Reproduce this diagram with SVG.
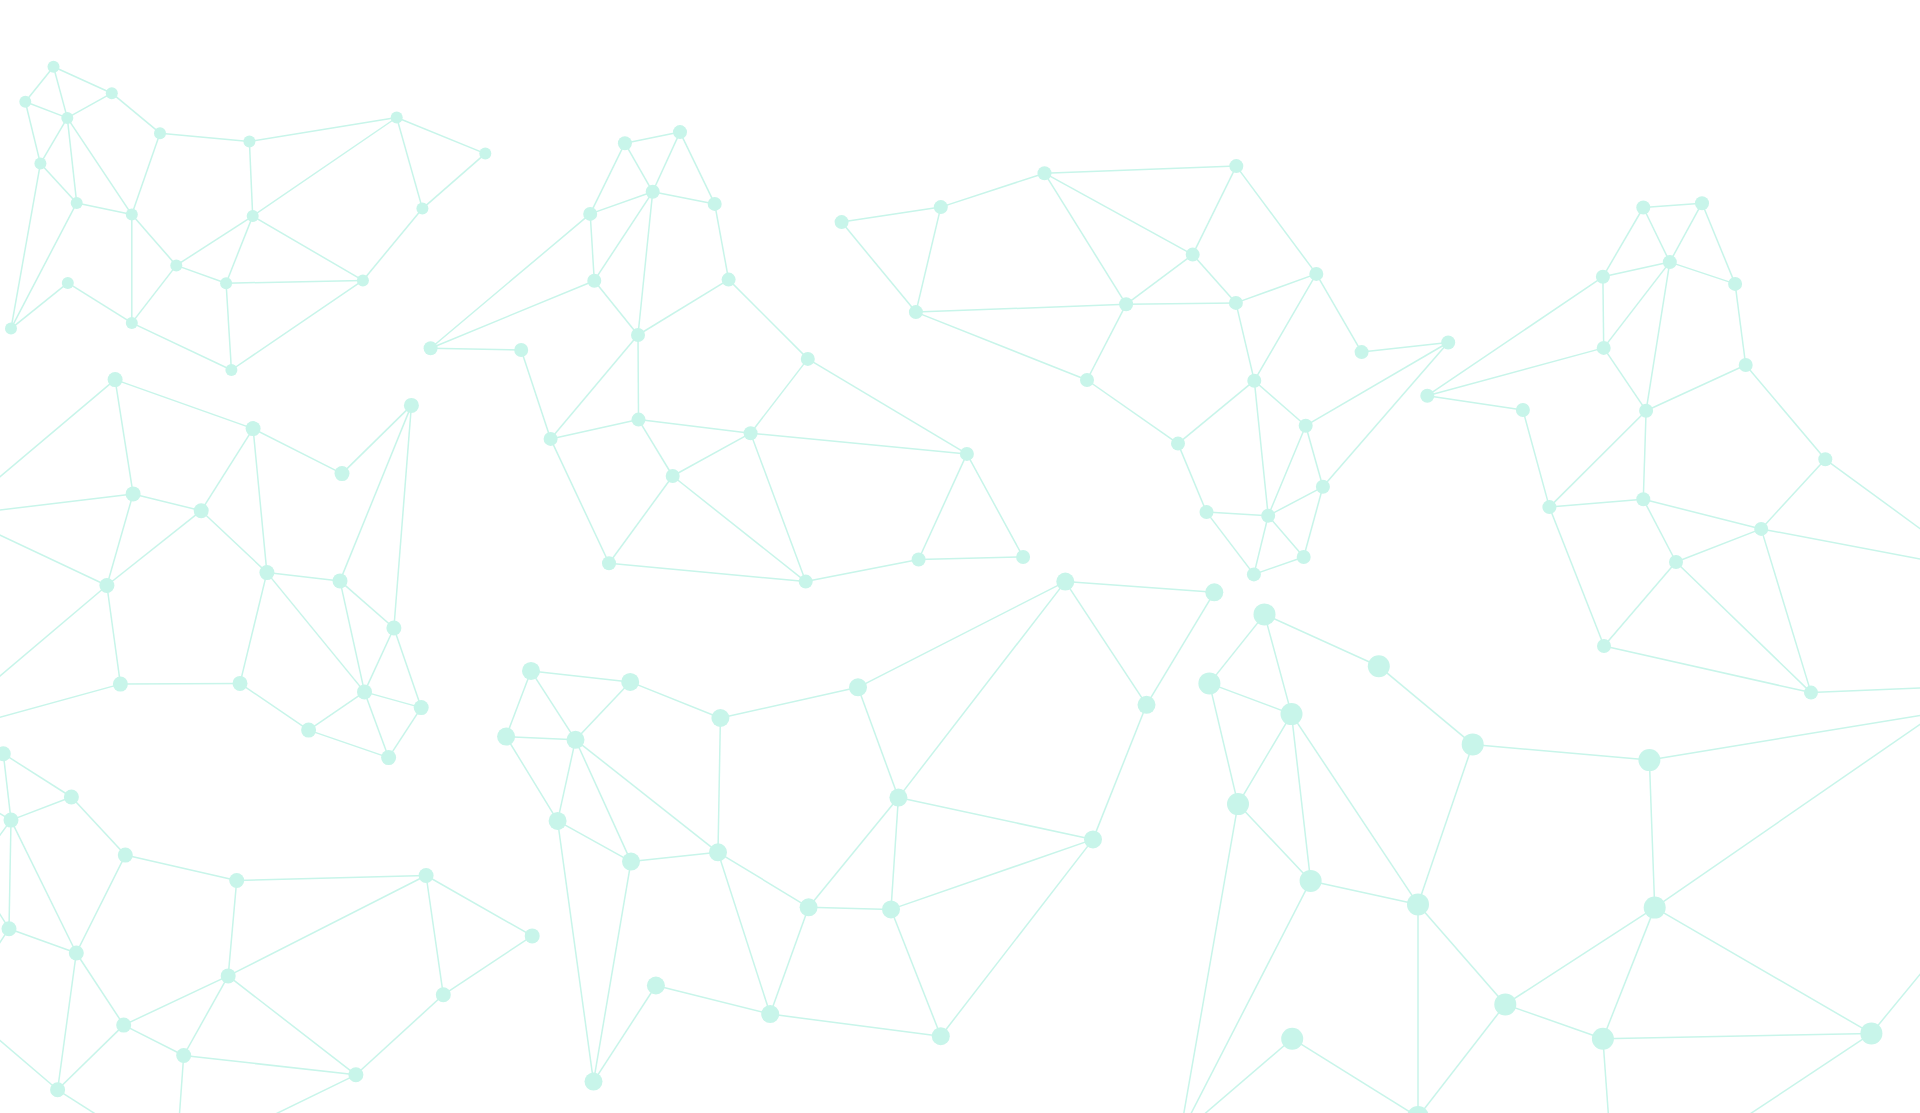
<svg xmlns="http://www.w3.org/2000/svg" width="1920" height="1113" viewBox="0 0 1920 1113">
<style>
.bg{fill:#ffffff}
#connectors line{stroke:#c8f5ea;stroke-width:1.5;fill:none}
.node circle{fill:#c8f5ea}
</style>
<rect class="bg" x="0" y="0" width="1920" height="1113"/>
<g id="connectors">
<!-- cluster A -->
<line x1="53.5" y1="66.8" x2="25.3" y2="101.8"/>
<line x1="53.5" y1="66.8" x2="111.8" y2="93.2"/>
<line x1="53.5" y1="66.8" x2="67.3" y2="117.9"/>
<line x1="25.3" y1="101.8" x2="67.3" y2="117.9"/>
<line x1="25.3" y1="101.8" x2="40.4" y2="163.6"/>
<line x1="111.8" y1="93.2" x2="67.3" y2="117.9"/>
<line x1="111.8" y1="93.2" x2="160" y2="133.2"/>
<line x1="67.3" y1="117.9" x2="40.4" y2="163.6"/>
<line x1="67.3" y1="117.9" x2="76.7" y2="202.9"/>
<line x1="67.3" y1="117.9" x2="131.8" y2="214.6"/>
<line x1="160" y1="133.2" x2="249.4" y2="141.4"/>
<line x1="160" y1="133.2" x2="131.8" y2="214.6"/>
<line x1="249.4" y1="141.4" x2="396.7" y2="117.5"/>
<line x1="249.4" y1="141.4" x2="252.7" y2="216.1"/>
<line x1="396.7" y1="117.5" x2="485.3" y2="153.6"/>
<line x1="396.7" y1="117.5" x2="252.7" y2="216.1"/>
<line x1="396.7" y1="117.5" x2="422.4" y2="208.6"/>
<line x1="485.3" y1="153.6" x2="422.4" y2="208.6"/>
<line x1="40.4" y1="163.6" x2="76.7" y2="202.9"/>
<line x1="40.4" y1="163.6" x2="11" y2="328.6"/>
<line x1="76.7" y1="202.9" x2="131.8" y2="214.6"/>
<line x1="76.7" y1="202.9" x2="11" y2="328.6"/>
<line x1="131.8" y1="214.6" x2="176.3" y2="265.4"/>
<line x1="131.8" y1="214.6" x2="131.8" y2="322.9"/>
<line x1="252.7" y1="216.1" x2="176.3" y2="265.4"/>
<line x1="252.7" y1="216.1" x2="226.1" y2="283.2"/>
<line x1="252.7" y1="216.1" x2="362.9" y2="280.4"/>
<line x1="422.4" y1="208.6" x2="362.9" y2="280.4"/>
<line x1="176.3" y1="265.4" x2="226.1" y2="283.2"/>
<line x1="176.3" y1="265.4" x2="131.8" y2="322.9"/>
<line x1="226.1" y1="283.2" x2="362.9" y2="280.4"/>
<line x1="226.1" y1="283.2" x2="231.4" y2="370"/>
<line x1="362.9" y1="280.4" x2="231.4" y2="370"/>
<line x1="67.8" y1="282.9" x2="11" y2="328.6"/>
<line x1="67.8" y1="282.9" x2="131.8" y2="322.9"/>
<line x1="131.8" y1="322.9" x2="231.4" y2="370"/>
<!-- cluster B -->
<line x1="624.9" y1="143.2" x2="680" y2="132.1"/>
<line x1="624.9" y1="143.2" x2="652.7" y2="191.8"/>
<line x1="680" y1="132.1" x2="652.7" y2="191.8"/>
<line x1="680" y1="132.1" x2="714.7" y2="203.9"/>
<line x1="624.9" y1="143.2" x2="590.2" y2="213.9"/>
<line x1="590.2" y1="213.9" x2="652.7" y2="191.8"/>
<line x1="652.7" y1="191.8" x2="714.7" y2="203.9"/>
<line x1="590.2" y1="213.9" x2="594.3" y2="280.7"/>
<line x1="652.7" y1="191.8" x2="594.3" y2="280.7"/>
<line x1="652.7" y1="191.8" x2="638" y2="335"/>
<line x1="714.7" y1="203.9" x2="728.6" y2="279.6"/>
<line x1="590.2" y1="213.9" x2="430.6" y2="348.2"/>
<line x1="594.3" y1="280.7" x2="430.6" y2="348.2"/>
<line x1="430.6" y1="348.2" x2="521.2" y2="350"/>
<line x1="594.3" y1="280.7" x2="638" y2="335"/>
<line x1="728.6" y1="279.6" x2="638" y2="335"/>
<line x1="728.6" y1="279.6" x2="807.8" y2="358.9"/>
<line x1="638" y1="335" x2="550.6" y2="438.9"/>
<line x1="638" y1="335" x2="638.5" y2="419.6"/>
<line x1="521.2" y1="350" x2="550.6" y2="438.9"/>
<line x1="550.6" y1="438.9" x2="638.5" y2="419.6"/>
<line x1="550.6" y1="438.9" x2="609" y2="563.3"/>
<line x1="638.5" y1="419.6" x2="750.6" y2="433.2"/>
<line x1="638.5" y1="419.6" x2="672.7" y2="476"/>
<line x1="807.8" y1="358.9" x2="750.6" y2="433.2"/>
<line x1="807.8" y1="358.9" x2="966.9" y2="453.9"/>
<line x1="750.6" y1="433.2" x2="966.9" y2="453.9"/>
<line x1="750.6" y1="433.2" x2="672.7" y2="476"/>
<line x1="750.6" y1="433.2" x2="805.7" y2="581.6"/>
<line x1="672.7" y1="476" x2="609" y2="563.3"/>
<line x1="672.7" y1="476" x2="805.7" y2="581.6"/>
<line x1="609" y1="563.3" x2="805.7" y2="581.6"/>
<line x1="805.7" y1="581.6" x2="918.6" y2="559.5"/>
<line x1="918.6" y1="559.5" x2="966.9" y2="453.9"/>
<line x1="918.6" y1="559.5" x2="1023.1" y2="557"/>
<line x1="966.9" y1="453.9" x2="1023.1" y2="557"/>
<!-- cluster C -->
<line x1="841.6" y1="222.1" x2="940.8" y2="207.1"/>
<line x1="841.6" y1="222.1" x2="915.9" y2="312.1"/>
<line x1="940.8" y1="207.1" x2="1044.5" y2="173.2"/>
<line x1="940.8" y1="207.1" x2="915.9" y2="312.1"/>
<line x1="1044.5" y1="173.2" x2="1236.3" y2="166.1"/>
<line x1="1044.5" y1="173.2" x2="1192.7" y2="254.6"/>
<line x1="1044.5" y1="173.2" x2="1126.1" y2="304.3"/>
<line x1="1236.3" y1="166.1" x2="1192.7" y2="254.6"/>
<line x1="1236.3" y1="166.1" x2="1316.3" y2="273.9"/>
<line x1="1192.7" y1="254.6" x2="1126.1" y2="304.3"/>
<line x1="1192.7" y1="254.6" x2="1235.9" y2="302.9"/>
<line x1="1126.1" y1="304.3" x2="1235.9" y2="302.9"/>
<line x1="915.9" y1="312.1" x2="1126.1" y2="304.3"/>
<line x1="915.9" y1="312.1" x2="1087" y2="380"/>
<line x1="1126.1" y1="304.3" x2="1087" y2="380"/>
<line x1="1235.9" y1="302.9" x2="1316.3" y2="273.9"/>
<line x1="1235.9" y1="302.9" x2="1254.3" y2="380.7"/>
<line x1="1316.3" y1="273.9" x2="1254.3" y2="380.7"/>
<line x1="1316.3" y1="273.9" x2="1361.6" y2="352.1"/>
<line x1="1361.6" y1="352.1" x2="1448.2" y2="342.5"/>
<line x1="1087" y1="380" x2="1178" y2="443.6"/>
<line x1="1254.3" y1="380.7" x2="1178" y2="443.6"/>
<line x1="1254.3" y1="380.7" x2="1305.7" y2="425.7"/>
<line x1="1254.3" y1="380.7" x2="1268.2" y2="515.7"/>
<line x1="1448.2" y1="342.5" x2="1305.7" y2="425.7"/>
<line x1="1448.2" y1="342.5" x2="1322.9" y2="486.8"/>
<line x1="1305.7" y1="425.7" x2="1322.9" y2="486.8"/>
<line x1="1305.7" y1="425.7" x2="1268.2" y2="515.7"/>
<line x1="1178" y1="443.6" x2="1206.5" y2="512.1"/>
<line x1="1206.5" y1="512.1" x2="1268.2" y2="515.7"/>
<line x1="1206.5" y1="512.1" x2="1253.9" y2="574.4"/>
<line x1="1268.2" y1="515.7" x2="1253.9" y2="574.4"/>
<line x1="1268.2" y1="515.7" x2="1303.7" y2="557"/>
<line x1="1322.9" y1="486.8" x2="1268.2" y2="515.7"/>
<line x1="1322.9" y1="486.8" x2="1303.7" y2="557"/>
<line x1="1303.7" y1="557" x2="1253.9" y2="574.4"/>
<!-- cluster D -->
<line x1="1643.3" y1="207.5" x2="1702" y2="203.2"/>
<line x1="1643.3" y1="207.5" x2="1602.9" y2="276.8"/>
<line x1="1643.3" y1="207.5" x2="1669.8" y2="262.1"/>
<line x1="1702" y1="203.2" x2="1669.8" y2="262.1"/>
<line x1="1702" y1="203.2" x2="1735.1" y2="283.9"/>
<line x1="1602.9" y1="276.8" x2="1669.8" y2="262.1"/>
<line x1="1669.8" y1="262.1" x2="1735.1" y2="283.9"/>
<line x1="1602.9" y1="276.8" x2="1603.7" y2="347.9"/>
<line x1="1669.8" y1="262.1" x2="1603.7" y2="347.9"/>
<line x1="1669.8" y1="262.1" x2="1646.1" y2="410.7"/>
<line x1="1602.9" y1="276.8" x2="1427.3" y2="395.7"/>
<line x1="1603.7" y1="347.9" x2="1427.3" y2="395.7"/>
<line x1="1735.1" y1="283.9" x2="1745.7" y2="365"/>
<line x1="1427.3" y1="395.7" x2="1522.9" y2="410"/>
<line x1="1603.7" y1="347.9" x2="1646.1" y2="410.7"/>
<line x1="1745.7" y1="365" x2="1646.1" y2="410.7"/>
<line x1="1745.7" y1="365" x2="1825.3" y2="459.3"/>
<line x1="1646.1" y1="410.7" x2="1549.4" y2="507.1"/>
<line x1="1646.1" y1="410.7" x2="1643.3" y2="499.3"/>
<line x1="1522.9" y1="410" x2="1549.4" y2="507.1"/>
<line x1="1549.4" y1="507.1" x2="1643.3" y2="499.3"/>
<line x1="1549.4" y1="507.1" x2="1604" y2="646"/>
<line x1="1643.3" y1="499.3" x2="1761.2" y2="528.9"/>
<line x1="1643.3" y1="499.3" x2="1676" y2="562"/>
<line x1="1825.3" y1="459.3" x2="1761.2" y2="528.9"/>
<line x1="1825.3" y1="459.3" x2="1940" y2="543.2"/>
<line x1="1761.2" y1="528.9" x2="1940" y2="562.8"/>
<line x1="1761.2" y1="528.9" x2="1676" y2="562"/>
<line x1="1761.2" y1="528.9" x2="1811" y2="692.6"/>
<line x1="1676" y1="562" x2="1604" y2="646"/>
<line x1="1676" y1="562" x2="1811" y2="692.6"/>
<line x1="1604" y1="646" x2="1811" y2="692.6"/>
<line x1="1811" y1="692.6" x2="1940" y2="687.2"/>
<!-- cluster E -->
<line x1="115.1" y1="379.6" x2="-20" y2="493.7"/>
<line x1="115.1" y1="379.6" x2="253.1" y2="428.6"/>
<line x1="115.1" y1="379.6" x2="133.1" y2="493.9"/>
<line x1="253.1" y1="428.6" x2="342" y2="473.6"/>
<line x1="253.1" y1="428.6" x2="201.2" y2="510.7"/>
<line x1="253.1" y1="428.6" x2="266.9" y2="572.6"/>
<line x1="342" y1="473.6" x2="411.4" y2="405.4"/>
<line x1="411.4" y1="405.4" x2="340" y2="580.9"/>
<line x1="411.4" y1="405.4" x2="393.9" y2="628"/>
<line x1="133.1" y1="493.9" x2="-20" y2="512.4"/>
<line x1="133.1" y1="493.9" x2="201.2" y2="510.7"/>
<line x1="133.1" y1="493.9" x2="106.9" y2="585.5"/>
<line x1="201.2" y1="510.7" x2="106.9" y2="585.5"/>
<line x1="201.2" y1="510.7" x2="266.9" y2="572.6"/>
<line x1="-20" y1="525.7" x2="106.9" y2="585.5"/>
<line x1="106.9" y1="585.5" x2="-20" y2="692.9"/>
<line x1="106.9" y1="585.5" x2="120.4" y2="684.1"/>
<line x1="266.9" y1="572.6" x2="340" y2="580.9"/>
<line x1="266.9" y1="572.6" x2="240" y2="683.4"/>
<line x1="266.9" y1="572.6" x2="364.5" y2="691.9"/>
<line x1="340" y1="580.9" x2="393.9" y2="628"/>
<line x1="340" y1="580.9" x2="364.5" y2="691.9"/>
<line x1="393.9" y1="628" x2="364.5" y2="691.9"/>
<line x1="393.9" y1="628" x2="421.2" y2="707.6"/>
<line x1="120.4" y1="684.1" x2="240" y2="683.4"/>
<line x1="120.4" y1="684.1" x2="-20" y2="722.8"/>
<line x1="240" y1="683.4" x2="308.6" y2="730.1"/>
<line x1="364.5" y1="691.9" x2="308.6" y2="730.1"/>
<line x1="364.5" y1="691.9" x2="421.2" y2="707.6"/>
<line x1="364.5" y1="691.9" x2="388.6" y2="757.6"/>
<line x1="308.6" y1="730.1" x2="388.6" y2="757.6"/>
<line x1="421.2" y1="707.6" x2="388.6" y2="757.6"/>
<!-- cluster F -->
<line x1="3.3" y1="753.7" x2="71.4" y2="797"/>
<line x1="3.3" y1="753.7" x2="11" y2="820.1"/>
<line x1="71.4" y1="797" x2="11" y2="820.1"/>
<line x1="71.4" y1="797" x2="125.3" y2="855.1"/>
<line x1="11" y1="820.1" x2="-20" y2="802"/>
<line x1="11" y1="820.1" x2="-20" y2="862"/>
<line x1="11" y1="820.1" x2="9" y2="928.7"/>
<line x1="11" y1="820.1" x2="76.3" y2="953"/>
<line x1="125.3" y1="855.1" x2="236.7" y2="880.5"/>
<line x1="125.3" y1="855.1" x2="76.3" y2="953"/>
<line x1="236.7" y1="880.5" x2="426.1" y2="875.5"/>
<line x1="236.7" y1="880.5" x2="228.2" y2="975.9"/>
<line x1="426.1" y1="875.5" x2="228.2" y2="975.9"/>
<line x1="426.1" y1="875.5" x2="532.2" y2="935.9"/>
<line x1="426.1" y1="875.5" x2="443.3" y2="994.8"/>
<line x1="532.2" y1="935.9" x2="443.3" y2="994.8"/>
<line x1="9" y1="928.7" x2="76.3" y2="953"/>
<line x1="9" y1="928.7" x2="-20" y2="882.6"/>
<line x1="9" y1="928.7" x2="-20" y2="972.5"/>
<line x1="76.3" y1="953" x2="123.7" y2="1025.1"/>
<line x1="76.3" y1="953" x2="57.6" y2="1089.8"/>
<line x1="228.2" y1="975.9" x2="123.7" y2="1025.1"/>
<line x1="228.2" y1="975.9" x2="183.7" y2="1055.5"/>
<line x1="228.2" y1="975.9" x2="355.9" y2="1074.8"/>
<line x1="123.7" y1="1025.1" x2="183.7" y2="1055.5"/>
<line x1="123.7" y1="1025.1" x2="57.6" y2="1089.8"/>
<line x1="183.7" y1="1055.5" x2="355.9" y2="1074.8"/>
<line x1="183.7" y1="1055.5" x2="178.7" y2="1125"/>
<line x1="355.9" y1="1074.8" x2="443.3" y2="994.8"/>
<line x1="355.9" y1="1074.8" x2="253" y2="1125"/>
<line x1="57.6" y1="1089.8" x2="-20" y2="1023.4"/>
<line x1="57.6" y1="1089.8" x2="112.7" y2="1125"/>
<!-- cluster G -->
<line x1="531" y1="670.9" x2="630.2" y2="681.9"/>
<line x1="531" y1="670.9" x2="506.1" y2="736.6"/>
<line x1="531" y1="670.9" x2="575.5" y2="739.8"/>
<line x1="630.2" y1="681.9" x2="575.5" y2="739.8"/>
<line x1="630.2" y1="681.9" x2="720.4" y2="718"/>
<line x1="506.1" y1="736.6" x2="575.5" y2="739.8"/>
<line x1="506.1" y1="736.6" x2="557.6" y2="820.9"/>
<line x1="575.5" y1="739.8" x2="557.6" y2="820.9"/>
<line x1="575.5" y1="739.8" x2="631" y2="861.6"/>
<line x1="575.5" y1="739.8" x2="718" y2="852.3"/>
<line x1="720.4" y1="718" x2="858" y2="687.3"/>
<line x1="720.4" y1="718" x2="718" y2="852.3"/>
<line x1="858" y1="687.3" x2="1065.3" y2="581.6"/>
<line x1="858" y1="687.3" x2="898.4" y2="797.6"/>
<line x1="1065.3" y1="581.6" x2="1214.3" y2="592.3"/>
<line x1="1065.3" y1="581.6" x2="898.4" y2="797.6"/>
<line x1="1065.3" y1="581.6" x2="1146.5" y2="704.8"/>
<line x1="1214.3" y1="592.3" x2="1146.5" y2="704.8"/>
<line x1="1146.5" y1="704.8" x2="1093" y2="839.4"/>
<line x1="898.4" y1="797.6" x2="1093" y2="839.4"/>
<line x1="898.4" y1="797.6" x2="808.6" y2="907.3"/>
<line x1="898.4" y1="797.6" x2="891" y2="909.4"/>
<line x1="557.6" y1="820.9" x2="631" y2="861.6"/>
<line x1="557.6" y1="820.9" x2="593.5" y2="1081.6"/>
<line x1="631" y1="861.6" x2="718" y2="852.3"/>
<line x1="631" y1="861.6" x2="593.5" y2="1081.6"/>
<line x1="718" y1="852.3" x2="808.6" y2="907.3"/>
<line x1="718" y1="852.3" x2="770.2" y2="1014.1"/>
<line x1="808.6" y1="907.3" x2="891" y2="909.4"/>
<line x1="808.6" y1="907.3" x2="770.2" y2="1014.1"/>
<line x1="891" y1="909.4" x2="1093" y2="839.4"/>
<line x1="891" y1="909.4" x2="940.8" y2="1036.2"/>
<line x1="1093" y1="839.4" x2="940.8" y2="1036.2"/>
<line x1="655.9" y1="985.5" x2="770.2" y2="1014.1"/>
<line x1="655.9" y1="985.5" x2="593.5" y2="1081.6"/>
<line x1="770.2" y1="1014.1" x2="940.8" y2="1036.2"/>
<!-- cluster H -->
<line x1="1264.5" y1="614.4" x2="1209.4" y2="683.4"/>
<line x1="1264.5" y1="614.4" x2="1291.5" y2="714.1"/>
<line x1="1264.5" y1="614.4" x2="1378.8" y2="666.2"/>
<line x1="1209.4" y1="683.4" x2="1291.5" y2="714.1"/>
<line x1="1209.4" y1="683.4" x2="1238" y2="804.1"/>
<line x1="1291.5" y1="714.1" x2="1238" y2="804.1"/>
<line x1="1291.5" y1="714.1" x2="1310.6" y2="880.9"/>
<line x1="1291.5" y1="714.1" x2="1418" y2="904.4"/>
<line x1="1378.8" y1="666.2" x2="1472.7" y2="744.4"/>
<line x1="1472.7" y1="744.4" x2="1649.4" y2="760.1"/>
<line x1="1472.7" y1="744.4" x2="1418" y2="904.4"/>
<line x1="1649.4" y1="760.1" x2="1937" y2="712.6"/>
<line x1="1649.4" y1="760.1" x2="1654.7" y2="907.6"/>
<line x1="1238" y1="804.1" x2="1310.6" y2="880.9"/>
<line x1="1238" y1="804.1" x2="1180" y2="1135"/>
<line x1="1310.6" y1="880.9" x2="1418" y2="904.4"/>
<line x1="1310.6" y1="880.9" x2="1180" y2="1135"/>
<line x1="1418" y1="904.4" x2="1505.3" y2="1004.4"/>
<line x1="1418" y1="904.4" x2="1418" y2="1117"/>
<line x1="1654.7" y1="907.6" x2="1937" y2="712.6"/>
<line x1="1654.7" y1="907.6" x2="1505.3" y2="1004.4"/>
<line x1="1654.7" y1="907.6" x2="1602.9" y2="1038.7"/>
<line x1="1654.7" y1="907.6" x2="1871.4" y2="1033.4"/>
<line x1="1505.3" y1="1004.4" x2="1602.9" y2="1038.7"/>
<line x1="1505.3" y1="1004.4" x2="1418" y2="1117"/>
<line x1="1602.9" y1="1038.7" x2="1871.4" y2="1033.4"/>
<line x1="1602.9" y1="1038.7" x2="1609.5" y2="1130"/>
<line x1="1871.4" y1="1033.4" x2="1940" y2="950.1"/>
<line x1="1871.4" y1="1033.4" x2="1725.8" y2="1130"/>
<line x1="1292.2" y1="1038.7" x2="1418" y2="1117"/>
<line x1="1292.2" y1="1038.7" x2="1180" y2="1135"/>
</g>
<g id="nodes">
<g id="a1" class="node"><circle cx="53.5" cy="66.8" r="6"/></g>
<g id="a2" class="node"><circle cx="25.3" cy="101.8" r="6"/></g>
<g id="a3" class="node"><circle cx="111.8" cy="93.2" r="6"/></g>
<g id="a4" class="node"><circle cx="67.3" cy="117.9" r="6"/></g>
<g id="a5" class="node"><circle cx="160" cy="133.2" r="6"/></g>
<g id="a6" class="node"><circle cx="249.4" cy="141.4" r="6"/></g>
<g id="a7" class="node"><circle cx="396.7" cy="117.5" r="6"/></g>
<g id="a8" class="node"><circle cx="485.3" cy="153.6" r="6"/></g>
<g id="a9" class="node"><circle cx="40.4" cy="163.6" r="6"/></g>
<g id="a10" class="node"><circle cx="76.7" cy="202.9" r="6"/></g>
<g id="a11" class="node"><circle cx="131.8" cy="214.6" r="6"/></g>
<g id="a12" class="node"><circle cx="252.7" cy="216.1" r="6"/></g>
<g id="a13" class="node"><circle cx="422.4" cy="208.6" r="6"/></g>
<g id="a14" class="node"><circle cx="176.3" cy="265.4" r="6"/></g>
<g id="a15" class="node"><circle cx="226.1" cy="283.2" r="6"/></g>
<g id="a16" class="node"><circle cx="362.9" cy="280.4" r="6"/></g>
<g id="a17" class="node"><circle cx="67.8" cy="282.9" r="6"/></g>
<g id="a18" class="node"><circle cx="11" cy="328.6" r="6"/></g>
<g id="a19" class="node"><circle cx="131.8" cy="322.9" r="6"/></g>
<g id="a20" class="node"><circle cx="231.4" cy="370" r="6"/></g>
<g id="b1" class="node"><circle cx="624.9" cy="143.2" r="7"/></g>
<g id="b2" class="node"><circle cx="680" cy="132.1" r="7"/></g>
<g id="b3" class="node"><circle cx="714.7" cy="203.9" r="7"/></g>
<g id="b4" class="node"><circle cx="590.2" cy="213.9" r="7"/></g>
<g id="b5" class="node"><circle cx="652.7" cy="191.8" r="7"/></g>
<g id="b6" class="node"><circle cx="728.6" cy="279.6" r="7"/></g>
<g id="b7" class="node"><circle cx="594.3" cy="280.7" r="7"/></g>
<g id="b8" class="node"><circle cx="638" cy="335" r="7"/></g>
<g id="b9" class="node"><circle cx="807.8" cy="358.9" r="7"/></g>
<g id="b10" class="node"><circle cx="430.6" cy="348.2" r="7"/></g>
<g id="b11" class="node"><circle cx="521.2" cy="350" r="7"/></g>
<g id="b12" class="node"><circle cx="550.6" cy="438.9" r="7"/></g>
<g id="b13" class="node"><circle cx="638.5" cy="419.6" r="7"/></g>
<g id="b14" class="node"><circle cx="750.6" cy="433.2" r="7"/></g>
<g id="b15" class="node"><circle cx="966.9" cy="453.9" r="7"/></g>
<g id="b16" class="node"><circle cx="672.7" cy="476" r="7"/></g>
<g id="b17" class="node"><circle cx="609" cy="563.3" r="7"/></g>
<g id="b18" class="node"><circle cx="805.7" cy="581.6" r="7"/></g>
<g id="b19" class="node"><circle cx="918.6" cy="559.5" r="7"/></g>
<g id="b20" class="node"><circle cx="1023.1" cy="557" r="7"/></g>
<g id="c1" class="node"><circle cx="841.6" cy="222.1" r="7"/></g>
<g id="c2" class="node"><circle cx="940.8" cy="207.1" r="7"/></g>
<g id="c3" class="node"><circle cx="1044.5" cy="173.2" r="7"/></g>
<g id="c4" class="node"><circle cx="1236.3" cy="166.1" r="7"/></g>
<g id="c5" class="node"><circle cx="1192.7" cy="254.6" r="7"/></g>
<g id="c6" class="node"><circle cx="1126.1" cy="304.3" r="7"/></g>
<g id="c7" class="node"><circle cx="1235.9" cy="302.9" r="7"/></g>
<g id="c8" class="node"><circle cx="915.9" cy="312.1" r="7"/></g>
<g id="c9" class="node"><circle cx="1087" cy="380" r="7"/></g>
<g id="c10" class="node"><circle cx="1254.3" cy="380.7" r="7"/></g>
<g id="c11" class="node"><circle cx="1178" cy="443.6" r="7"/></g>
<g id="c12" class="node"><circle cx="1206.5" cy="512.1" r="7"/></g>
<g id="c13" class="node"><circle cx="1268.2" cy="515.7" r="7"/></g>
<g id="c14" class="node"><circle cx="1316.3" cy="273.9" r="7"/></g>
<g id="c15" class="node"><circle cx="1361.6" cy="352.1" r="7"/></g>
<g id="c16" class="node"><circle cx="1448.2" cy="342.5" r="7"/></g>
<g id="c17" class="node"><circle cx="1305.7" cy="425.7" r="7"/></g>
<g id="c18" class="node"><circle cx="1322.9" cy="486.8" r="7"/></g>
<g id="c19" class="node"><circle cx="1303.7" cy="557" r="7"/></g>
<g id="c20" class="node"><circle cx="1253.9" cy="574.4" r="7"/></g>
<g id="d1" class="node"><circle cx="1643.3" cy="207.5" r="7"/></g>
<g id="d2" class="node"><circle cx="1702" cy="203.2" r="7"/></g>
<g id="d3" class="node"><circle cx="1602.9" cy="276.8" r="7"/></g>
<g id="d4" class="node"><circle cx="1669.8" cy="262.1" r="7"/></g>
<g id="d5" class="node"><circle cx="1735.1" cy="283.9" r="7"/></g>
<g id="d6" class="node"><circle cx="1603.7" cy="347.9" r="7"/></g>
<g id="d7" class="node"><circle cx="1745.7" cy="365" r="7"/></g>
<g id="d8" class="node"><circle cx="1427.3" cy="395.7" r="7"/></g>
<g id="d9" class="node"><circle cx="1522.9" cy="410" r="7"/></g>
<g id="d10" class="node"><circle cx="1646.1" cy="410.7" r="7"/></g>
<g id="d11" class="node"><circle cx="1825.3" cy="459.3" r="7"/></g>
<g id="d12" class="node"><circle cx="1549.4" cy="507.1" r="7"/></g>
<g id="d13" class="node"><circle cx="1643.3" cy="499.3" r="7"/></g>
<g id="d14" class="node"><circle cx="1761.2" cy="528.9" r="7"/></g>
<g id="d15" class="node"><circle cx="1676" cy="562" r="7"/></g>
<g id="d16" class="node"><circle cx="1604" cy="646" r="7"/></g>
<g id="d17" class="node"><circle cx="1811" cy="692.6" r="7"/></g>
<g id="e1" class="node"><circle cx="115.1" cy="379.6" r="7.5"/></g>
<g id="e2" class="node"><circle cx="253.1" cy="428.6" r="7.5"/></g>
<g id="e3" class="node"><circle cx="411.4" cy="405.4" r="7.5"/></g>
<g id="e4" class="node"><circle cx="342" cy="473.6" r="7.5"/></g>
<g id="e5" class="node"><circle cx="133.1" cy="493.9" r="7.5"/></g>
<g id="e6" class="node"><circle cx="201.2" cy="510.7" r="7.5"/></g>
<g id="e7" class="node"><circle cx="266.9" cy="572.6" r="7.5"/></g>
<g id="e8" class="node"><circle cx="340" cy="580.9" r="7.5"/></g>
<g id="e9" class="node"><circle cx="106.9" cy="585.5" r="7.5"/></g>
<g id="e10" class="node"><circle cx="393.9" cy="628" r="7.5"/></g>
<g id="e11" class="node"><circle cx="120.4" cy="684.1" r="7.5"/></g>
<g id="e12" class="node"><circle cx="240" cy="683.4" r="7.5"/></g>
<g id="e13" class="node"><circle cx="364.5" cy="691.9" r="7.5"/></g>
<g id="e14" class="node"><circle cx="421.2" cy="707.6" r="7.5"/></g>
<g id="e15" class="node"><circle cx="308.6" cy="730.1" r="7.5"/></g>
<g id="e16" class="node"><circle cx="388.6" cy="757.6" r="7.5"/></g>
<g id="f1" class="node"><circle cx="3.3" cy="753.7" r="7.5"/></g>
<g id="f2" class="node"><circle cx="71.4" cy="797" r="7.5"/></g>
<g id="f3" class="node"><circle cx="11" cy="820.1" r="7.5"/></g>
<g id="f4" class="node"><circle cx="125.3" cy="855.1" r="7.5"/></g>
<g id="f5" class="node"><circle cx="236.7" cy="880.5" r="7.5"/></g>
<g id="f6" class="node"><circle cx="426.1" cy="875.5" r="7.5"/></g>
<g id="f7" class="node"><circle cx="9" cy="928.7" r="7.5"/></g>
<g id="f8" class="node"><circle cx="76.3" cy="953" r="7.5"/></g>
<g id="f9" class="node"><circle cx="228.2" cy="975.9" r="7.5"/></g>
<g id="f10" class="node"><circle cx="532.2" cy="935.9" r="7.5"/></g>
<g id="f11" class="node"><circle cx="443.3" cy="994.8" r="7.5"/></g>
<g id="f12" class="node"><circle cx="123.7" cy="1025.1" r="7.5"/></g>
<g id="f13" class="node"><circle cx="183.7" cy="1055.5" r="7.5"/></g>
<g id="f14" class="node"><circle cx="355.9" cy="1074.8" r="7.5"/></g>
<g id="f15" class="node"><circle cx="57.6" cy="1089.8" r="7.5"/></g>
<g id="g1" class="node"><circle cx="531" cy="670.9" r="9"/></g>
<g id="g2" class="node"><circle cx="630.2" cy="681.9" r="9"/></g>
<g id="g3" class="node"><circle cx="506.1" cy="736.6" r="9"/></g>
<g id="g4" class="node"><circle cx="575.5" cy="739.8" r="9"/></g>
<g id="g5" class="node"><circle cx="720.4" cy="718" r="9"/></g>
<g id="g6" class="node"><circle cx="858" cy="687.3" r="9"/></g>
<g id="g7" class="node"><circle cx="1065.3" cy="581.6" r="9"/></g>
<g id="g8" class="node"><circle cx="1214.3" cy="592.3" r="9"/></g>
<g id="g9" class="node"><circle cx="1146.5" cy="704.8" r="9"/></g>
<g id="g10" class="node"><circle cx="557.6" cy="820.9" r="9"/></g>
<g id="g11" class="node"><circle cx="631" cy="861.6" r="9"/></g>
<g id="g12" class="node"><circle cx="718" cy="852.3" r="9"/></g>
<g id="g13" class="node"><circle cx="898.4" cy="797.6" r="9"/></g>
<g id="g14" class="node"><circle cx="1093" cy="839.4" r="9"/></g>
<g id="g15" class="node"><circle cx="808.6" cy="907.3" r="9"/></g>
<g id="g16" class="node"><circle cx="891" cy="909.4" r="9"/></g>
<g id="g17" class="node"><circle cx="655.9" cy="985.5" r="9"/></g>
<g id="g18" class="node"><circle cx="770.2" cy="1014.1" r="9"/></g>
<g id="g19" class="node"><circle cx="940.8" cy="1036.2" r="9"/></g>
<g id="g20" class="node"><circle cx="593.5" cy="1081.6" r="9"/></g>
<g id="h1" class="node"><circle cx="1264.5" cy="614.4" r="11"/></g>
<g id="h2" class="node"><circle cx="1378.8" cy="666.2" r="11"/></g>
<g id="h3" class="node"><circle cx="1209.4" cy="683.4" r="11"/></g>
<g id="h4" class="node"><circle cx="1291.5" cy="714.1" r="11"/></g>
<g id="h5" class="node"><circle cx="1472.7" cy="744.4" r="11"/></g>
<g id="h6" class="node"><circle cx="1649.4" cy="760.1" r="11"/></g>
<g id="h7" class="node"><circle cx="1238" cy="804.1" r="11"/></g>
<g id="h8" class="node"><circle cx="1310.6" cy="880.9" r="11"/></g>
<g id="h9" class="node"><circle cx="1418" cy="904.4" r="11"/></g>
<g id="h10" class="node"><circle cx="1654.7" cy="907.6" r="11"/></g>
<g id="h11" class="node"><circle cx="1505.3" cy="1004.4" r="11"/></g>
<g id="h12" class="node"><circle cx="1602.9" cy="1038.7" r="11"/></g>
<g id="h13" class="node"><circle cx="1871.4" cy="1033.4" r="11"/></g>
<g id="h14" class="node"><circle cx="1292.2" cy="1038.7" r="11"/></g>
<g id="h15" class="node"><circle cx="1418" cy="1117" r="11"/></g>
</g>
</svg>
